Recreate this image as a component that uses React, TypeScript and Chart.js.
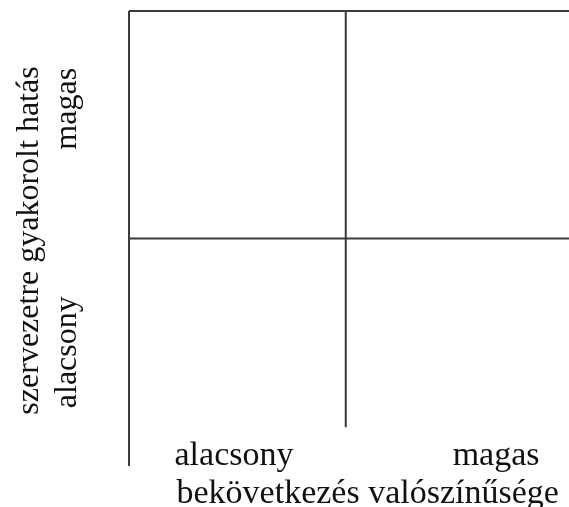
import React, { useEffect, useRef } from "react";
import { Chart, registerables } from "chart.js";

Chart.register(...registerables);

// Axis category labels (low, high) and axis titles
const xLevels = ["alacsony", "magas"];
const yLevels = ["alacsony", "magas"];
const xTitle = "bekövetkezés valószínűsége";
const yTitle = "szervezetre gyakorolt hatás";

// Matrix frame lines in data units (x: 0..X_MAX, y: 0..2)
const X_MAX = 2.03;
const leftLine = [{ x: 0, y: 2 }, { x: 0, y: 0 }];
const topLine = [{ x: 0, y: 2 }, { x: X_MAX, y: 2 }];
const midVertical = [{ x: 1, y: 2 }, { x: 1, y: 0.17 }];
const midHorizontal = [{ x: 0, y: 1 }, { x: X_MAX, y: 1 }];

// Anchor values (data units) where the level labels sit
const xLevelAnchors = [0.21, 1.894];
const yLevelAnchors = [0.254, 1.75];

const FONT_H = "34px 'Liberation Serif', 'Times New Roman', serif";
const FONT_V = "32px 'Liberation Serif', 'Times New Roman', serif";
const TEXT_COLOR = "#111111";
const LINE_COLOR = "#3a3a3a";

const labelsPlugin = {
  id: "quadLabels",
  afterDraw(chart: any) {
    const { ctx, chartArea } = chart;
    const xs = chart.scales.x;
    const ys = chart.scales.y;
    ctx.save();
    ctx.fillStyle = TEXT_COLOR;
    ctx.textBaseline = "alphabetic";

    // x-axis level labels
    ctx.font = FONT_H;
    const xBase = chartArea.bottom - 1;
    ctx.textAlign = "left";
    ctx.fillText(xLevels[0], xs.getPixelForValue(xLevelAnchors[0]), xBase);
    ctx.textAlign = "right";
    ctx.fillText(xLevels[1], xs.getPixelForValue(xLevelAnchors[1]), xBase);
    // x-axis title
    ctx.textAlign = "left";
    ctx.fillText(xTitle, xs.getPixelForValue(xLevelAnchors[0]) + 2, chartArea.bottom + 37);

    // y-axis title (rotated)
    ctx.font = FONT_V;
    ctx.save();
    ctx.translate(chartArea.left - 91, ys.getPixelForValue(1) + 2);
    ctx.rotate(-Math.PI / 2);
    ctx.textAlign = "center";
    ctx.fillText(yTitle, 0, 0);
    ctx.restore();

    // y-axis level labels (rotated)
    const yBaseX = chartArea.left - 53;
    ctx.save();
    ctx.translate(yBaseX, ys.getPixelForValue(yLevelAnchors[0]));
    ctx.rotate(-Math.PI / 2);
    ctx.textAlign = "left";
    ctx.fillText(yLevels[0], 0, 0);
    ctx.restore();
    ctx.save();
    ctx.translate(yBaseX, ys.getPixelForValue(yLevelAnchors[1]));
    ctx.rotate(-Math.PI / 2);
    ctx.textAlign = "right";
    ctx.fillText(yLevels[1], 0, 0);
    ctx.restore();

    ctx.restore();
  },
};

export default function App() {
  const ref = useRef<HTMLCanvasElement | null>(null);
  useEffect(() => {
    if (!ref.current) return;
    const mk = (data: any[]) => ({
      data,
      showLine: true,
      borderColor: LINE_COLOR,
      borderWidth: 2,
      pointRadius: 0,
      fill: false,
      clip: false as any,
    });
    const chart = new Chart(ref.current, {
      type: "scatter",
      data: {
        datasets: [mk(leftLine), mk(topLine), mk(midVertical), mk(midHorizontal)],
      },
      options: {
        animation: false,
        responsive: false,
        devicePixelRatio: 1,
        layout: { padding: { left: 129, top: 11, right: 0, bottom: 41 } },
        plugins: { legend: { display: false }, tooltip: { enabled: false } },
        scales: {
          x: { type: "linear", min: 0, max: X_MAX, display: false },
          y: { type: "linear", min: 0, max: 2, display: false },
        },
      },
      plugins: [labelsPlugin],
    });
    return () => chart.destroy();
  }, []);
  return (
    <div style={{ position: "absolute", left: 0, top: 0, width: 569, height: 507, background: "#fff" }}>
      <canvas ref={ref} width={569} height={507} style={{ width: 569, height: 507 }} />
    </div>
  );
}
